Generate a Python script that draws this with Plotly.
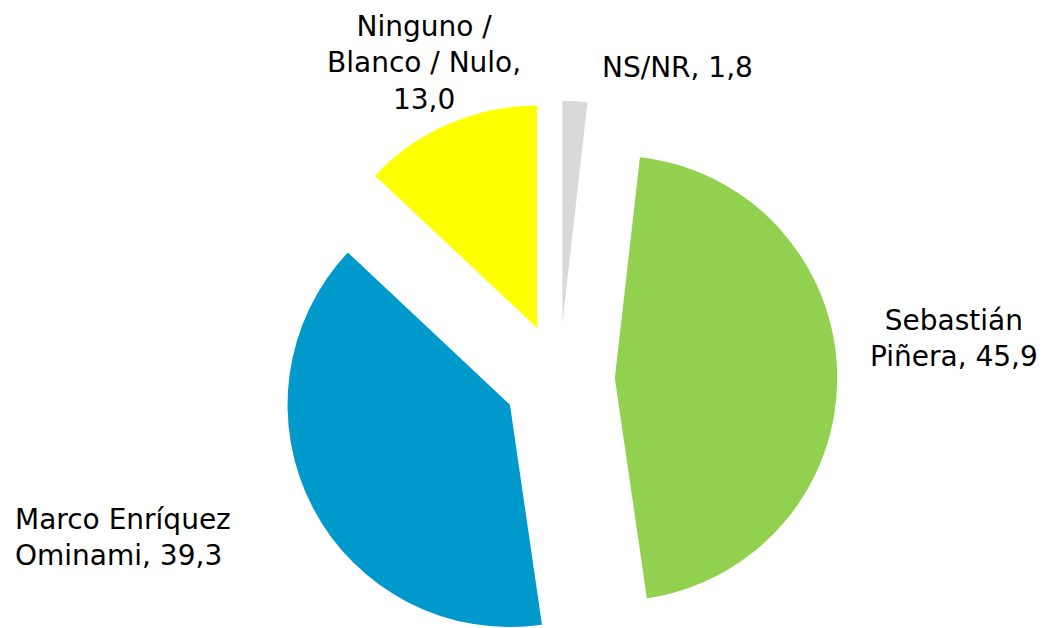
import plotly.graph_objects as go

# encuesta: intención de voto (%)
labels = ["NS/NR", "Sebastián Piñera", "Marco Enríquez Ominami", "Ninguno / Blanco / Nulo"]
values = [1.8, 45.9, 39.3, 13.0]
colors = ["#D9D9D9", "#92D050", "#0099CC", "#FFFF00"]
label_text = [
    "NS/NR, 1,8",
    "Sebastián<br>Piñera, 45,9",
    "Marco Enríquez<br>Ominami, 39,3",
    "Ninguno /<br>Blanco / Nulo,<br>13,0",
]

# page body has an 8px margin, so figure coords are screen coords minus 8
W, H = 1050, 649

fig = go.Figure()
fig.add_trace(go.Pie(
    labels=labels,
    values=values,
    marker=dict(colors=colors, line=dict(width=0)),
    pull=0.25,
    sort=False,
    direction="clockwise",
    rotation=0,
    textinfo="none",
    hoverinfo="label+value",
    domain=dict(x=[0.05, 1.0], y=[0.0, 556 / H]),
    showlegend=False,
))

# label placement (figure pixels from top-left): x, y, xanchor, yanchor
label_pos = [
    (669, 60, "center", "middle"),
    (946, 330, "center", "middle"),
    (5, 529, "left", "middle"),
    (416, 0, "center", "top"),
]
for txt, (px, py, xa, ya) in zip(label_text, label_pos):
    fig.add_annotation(
        x=px / W, y=1 - py / H, xref="paper", yref="paper",
        text=txt, showarrow=False,
        xanchor=xa, yanchor=ya, align=xa,
        font=dict(family="DejaVu Sans", size=28, color="#000000"),
    )

fig.update_layout(
    width=W,
    height=H,
    margin=dict(l=0, r=0, t=0, b=0),
    paper_bgcolor="white",
    plot_bgcolor="white",
)

fig.write_html("out.html")
